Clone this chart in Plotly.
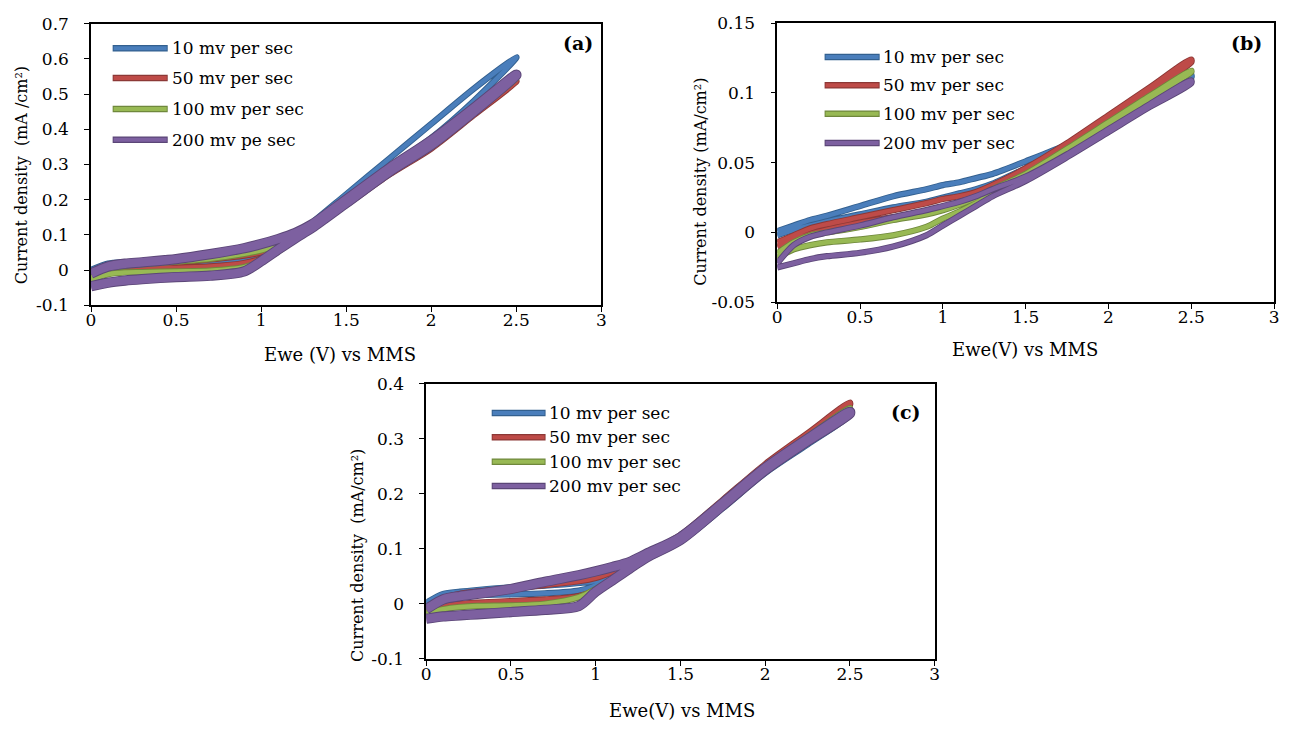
import plotly.graph_objects as go

W, H = 1290, 733

# ---------------- data ----------------
# common potential grid (V vs MMS), forward scan; reverse scan uses the same grid backwards
E = [0, 0.1, 0.2, 0.3, 0.5, 0.7, 0.9, 1.0, 1.1, 1.2, 1.3, 1.5, 1.75, 2.0, 2.25, 2.5]

labels_a = ["10 mv per sec", "50 mv per sec", "100 mv per sec", "200 mv pe sec"]
labels_bc = ["10 mv per sec", "50 mv per sec", "100 mv per sec", "200 mv per sec"]

# panel (a)  current density (mA/cm2), forward / reverse branches on grid E
a_10_fwd = [-0.005, 0.012, 0.018, 0.019, 0.020, 0.022, 0.027, 0.038, 0.062, 0.093, 0.125, 0.195, 0.290, 0.375, 0.480, 0.603]
a_10_rev = [0.000, 0.018, 0.022, 0.024, 0.026, 0.030, 0.036, 0.045, 0.068, 0.100, 0.135, 0.215, 0.315, 0.415, 0.515, 0.605]
a_50_fwd = [-0.022, -0.002, 0.003, 0.005, 0.006, 0.010, 0.020, 0.032, 0.055, 0.090, 0.120, 0.185, 0.270, 0.345, 0.440, 0.535]
a_50_rev = [-0.018, 0.000, 0.008, 0.013, 0.021, 0.030, 0.041, 0.050, 0.065, 0.097, 0.125, 0.190, 0.275, 0.355, 0.450, 0.537]
a_100_fwd = [-0.028, -0.012, -0.007, -0.006, -0.004, -0.002, 0.008, 0.025, 0.052, 0.088, 0.122, 0.190, 0.275, 0.350, 0.445, 0.545]
a_100_rev = [-0.022, 0.002, 0.012, 0.016, 0.024, 0.032, 0.046, 0.056, 0.072, 0.100, 0.128, 0.195, 0.280, 0.360, 0.455, 0.547]
a_200_fwd = [-0.046, -0.036, -0.030, -0.026, -0.020, -0.016, -0.004, 0.025, 0.058, 0.090, 0.120, 0.190, 0.278, 0.355, 0.450, 0.553]
a_200_rev = [-0.010, 0.010, 0.018, 0.022, 0.031, 0.045, 0.062, 0.074, 0.088, 0.105, 0.130, 0.200, 0.288, 0.368, 0.460, 0.555]

# panel (b)
b_10_fwd = [-0.002, 0.002, 0.005, 0.008, 0.013, 0.018, 0.022, 0.025, 0.028, 0.031, 0.035, 0.046, 0.060, 0.077, 0.094, 0.111]
b_10_rev = [0.001, 0.005, 0.009, 0.012, 0.019, 0.026, 0.031, 0.034, 0.036, 0.039, 0.042, 0.051, 0.063, 0.078, 0.095, 0.113]
b_50_fwd = [-0.010, -0.005, -0.001, 0.002, 0.007, 0.011, 0.015, 0.018, 0.021, 0.025, 0.030, 0.043, 0.062, 0.082, 0.102, 0.122]
b_50_rev = [-0.007, -0.002, 0.003, 0.006, 0.011, 0.016, 0.021, 0.024, 0.026, 0.029, 0.034, 0.046, 0.064, 0.084, 0.104, 0.124]
b_100_fwd = [-0.018, -0.012, -0.009, -0.007, -0.005, -0.002, 0.004, 0.010, 0.015, 0.021, 0.028, 0.040, 0.058, 0.077, 0.096, 0.115]
b_100_rev = [-0.015, -0.007, -0.002, 0.000, 0.004, 0.009, 0.013, 0.016, 0.020, 0.025, 0.031, 0.042, 0.060, 0.079, 0.098, 0.116]
b_200_fwd = [-0.025, -0.022, -0.019, -0.017, -0.0145, -0.010, -0.002, 0.005, 0.012, 0.019, 0.026, 0.037, 0.054, 0.072, 0.090, 0.107]
b_200_rev = [-0.022, -0.009, -0.003, 0.000, 0.005, 0.011, 0.016, 0.019, 0.022, 0.026, 0.031, 0.040, 0.056, 0.074, 0.092, 0.109]

# panel (c)
c_10_fwd = [0.000, 0.012, 0.015, 0.016, 0.017, 0.019, 0.024, 0.033, 0.050, 0.066, 0.082, 0.113, 0.174, 0.238, 0.290, 0.343]
c_10_rev = [0.002, 0.018, 0.022, 0.025, 0.030, 0.033, 0.038, 0.042, 0.055, 0.070, 0.087, 0.118, 0.179, 0.243, 0.295, 0.347]
c_50_fwd = [-0.012, -0.004, 0.000, 0.002, 0.005, 0.008, 0.014, 0.025, 0.045, 0.066, 0.086, 0.120, 0.184, 0.249, 0.305, 0.362]
c_50_rev = [-0.008, 0.010, 0.018, 0.022, 0.028, 0.034, 0.041, 0.047, 0.058, 0.072, 0.091, 0.125, 0.189, 0.254, 0.310, 0.366]
c_100_fwd = [-0.018, -0.010, -0.006, -0.004, -0.003, 0.000, 0.012, 0.027, 0.045, 0.064, 0.084, 0.117, 0.180, 0.244, 0.300, 0.354]
c_100_rev = [-0.012, 0.006, 0.012, 0.018, 0.028, 0.038, 0.050, 0.056, 0.064, 0.075, 0.090, 0.121, 0.184, 0.248, 0.304, 0.356]
c_200_fwd = [-0.027, -0.023, -0.021, -0.019, -0.015, -0.011, -0.004, 0.022, 0.043, 0.064, 0.084, 0.116, 0.179, 0.243, 0.296, 0.346]
c_200_rev = [-0.010, 0.008, 0.014, 0.018, 0.027, 0.040, 0.052, 0.059, 0.067, 0.076, 0.091, 0.121, 0.183, 0.247, 0.300, 0.349]

x_ticks = [0, 0.5, 1, 1.5, 2, 2.5, 3]
x_ticktext = ["0", "0.5", "1", "1.5", "2", "2.5", "3"]
a_yticks = [-0.1, 0, 0.1, 0.2, 0.3, 0.4, 0.5, 0.6, 0.7]
a_yticktext = ["-0.1", "0", "0.1", "0.2", "0.3", "0.4", "0.5", "0.6", "0.7"]
b_yticks = [-0.05, 0, 0.05, 0.1, 0.15]
b_yticktext = ["-0.05", "0", "0.05", "0.1", "0.15"]
c_yticks = [-0.1, 0, 0.1, 0.2, 0.3, 0.4]
c_yticktext = ["-0.1", "0", "0.1", "0.2", "0.3", "0.4"]

# ---------------- styling ----------------
FILL = ["#4A7EBB", "#BE4B48", "#98B954", "#7D60A0"]
EDGE = ["#33608F", "#8C3836", "#6F883C", "#5B4677"]
FONT = "DejaVu Serif"

fig = go.Figure()


def add_panel(xa, ya, curves, widths):
    for i, (fwd, rev) in enumerate(curves):
        xs = E + E[::-1]
        ys = fwd + rev[::-1]
        fig.add_trace(go.Scatter(x=xs, y=ys, xaxis=xa, yaxis=ya, mode="lines",
                                 line=dict(color=EDGE[i], width=widths[i] + 1.8, shape="spline", smoothing=0.8),
                                 showlegend=False, hoverinfo="skip"))
        fig.add_trace(go.Scatter(x=xs, y=ys, xaxis=xa, yaxis=ya, mode="lines",
                                 line=dict(color=FILL[i], width=widths[i], shape="spline", smoothing=0.8),
                                 showlegend=False, hoverinfo="skip"))


add_panel("x", "y", [(a_10_fwd, a_10_rev), (a_50_fwd, a_50_rev), (a_100_fwd, a_100_rev), (a_200_fwd, a_200_rev)],
          [4.5, 4.5, 4.5, 8.5])
add_panel("x2", "y2", [(b_10_fwd, b_10_rev), (b_50_fwd, b_50_rev), (b_100_fwd, b_100_rev), (b_200_fwd, b_200_rev)],
          [4.5, 4.5, 4.5, 4.5])
add_panel("x3", "y3", [(c_10_fwd, c_10_rev), (c_50_fwd, c_50_rev), (c_100_fwd, c_100_rev), (c_200_fwd, c_200_rev)],
          [4.5, 4.5, 4.5, 8.5])


def px_x(p):
    return p / W


def px_y(p):
    return 1 - p / H


def axis_common(standoff):
    return dict(showline=True, linecolor="#000000", linewidth=1.5, mirror=True,
                ticks="outside", ticklen=5, tickcolor="#000000", tickwidth=1.2,
                showgrid=False, zeroline=False, fixedrange=True, ticklabelstandoff=standoff,
                tickfont=dict(family=FONT, size=17, color="#000000"))


# domains (pixels -> paper)
dom = {
    "a": ([86.7, 601], [14, 303.5]),
    "b": ([778.3, 1279], [13.5, 300.5]),
    "c": ([424.5, 937], [384.3, 667]),
}


def xdom(k):
    return [px_x(dom[k][0][0]), px_x(dom[k][0][1])]


def ydom(k):
    return [px_y(dom[k][1][1]), px_y(dom[k][1][0])]


fig.update_layout(
    width=W, height=H, margin=dict(l=0, r=0, t=0, b=0),
    paper_bgcolor="white", plot_bgcolor="white", showlegend=False,
    font=dict(family=FONT, color="#000000"),
)
fig.update_layout(
    xaxis=dict(domain=xdom("a"), anchor="y", range=[0, 3], tickvals=x_ticks, ticktext=x_ticktext, **axis_common(-6)),
    yaxis=dict(domain=ydom("a"), anchor="x", range=[-0.1, 0.7], tickvals=a_yticks, ticktext=a_yticktext, **axis_common(12)),
    xaxis2=dict(domain=xdom("b"), anchor="y2", range=[0, 3], tickvals=x_ticks, ticktext=x_ticktext, **axis_common(-6)),
    yaxis2=dict(domain=ydom("b"), anchor="x2", range=[-0.05, 0.15], tickvals=b_yticks, ticktext=b_yticktext, **axis_common(12)),
    xaxis3=dict(domain=xdom("c"), anchor="y3", range=[0, 3], tickvals=x_ticks, ticktext=x_ticktext, **axis_common(-6)),
    yaxis3=dict(domain=ydom("c"), anchor="x3", range=[-0.1, 0.4], tickvals=c_yticks, ticktext=c_yticktext, **axis_common(12)),
)

annotations = []
shapes = []


def text(x, y, s, size, angle=0, bold=False, xanchor="center"):
    annotations.append(dict(x=px_x(x), y=px_y(y), xref="paper", yref="paper", text=s,
                            showarrow=False, textangle=angle, xanchor=xanchor, yanchor="middle",
                            font=dict(family=FONT, size=size, color="#000000",
                                      weight="bold" if bold else "normal")))


# axis titles
text(338, 354, "Ewe (V) vs MMS", 18)
text(1028, 349, "Ewe(V) vs MMS", 18)
text(682, 720, "Ewe(V) vs MMS", 18)
text(16, 170, "Current density  (mA /cm²)", 16, angle=-90)
text(701, 177, "Current density (mA/cm²)", 16, angle=-90)
text(355, 561, "Current density  (mA/cm²)", 16, angle=-90)

# panel labels
text(577, 34, "(a)", 19, bold=True)
text(1251, 34, "(b)", 19, bold=True)
text(908, 413, "(c)", 19, bold=True)

# legends (drawn manually to mimic the Excel style)
legend_pos = {
    "a": (108.5, 164, 166, [39.3, 70, 101.7, 133.3], labels_a),
    "b": (826, 881.5, 883, [48.3, 77.3, 106.7, 136.7], labels_bc),
    "c": (490.5, 544.8, 546.5, [414.3, 439.3, 464.3, 489.3], labels_bc),
}
for k, (x0, x1, xt, ys, labs) in legend_pos.items():
    for i, (yy, lab) in enumerate(zip(ys, labs)):
        shapes.append(dict(type="line", xref="paper", yref="paper", x0=px_x(x0), x1=px_x(x1), y0=px_y(yy), y1=px_y(yy),
                           line=dict(color=EDGE[i], width=6.5)))
        shapes.append(dict(type="line", xref="paper", yref="paper", x0=px_x(x0 + 1), x1=px_x(x1 - 1), y0=px_y(yy), y1=px_y(yy),
                           line=dict(color=FILL[i], width=4)))
        text(xt, yy, lab, 17, xanchor="left")

fig.update_layout(annotations=annotations, shapes=shapes)
fig.write_html("out.html")
